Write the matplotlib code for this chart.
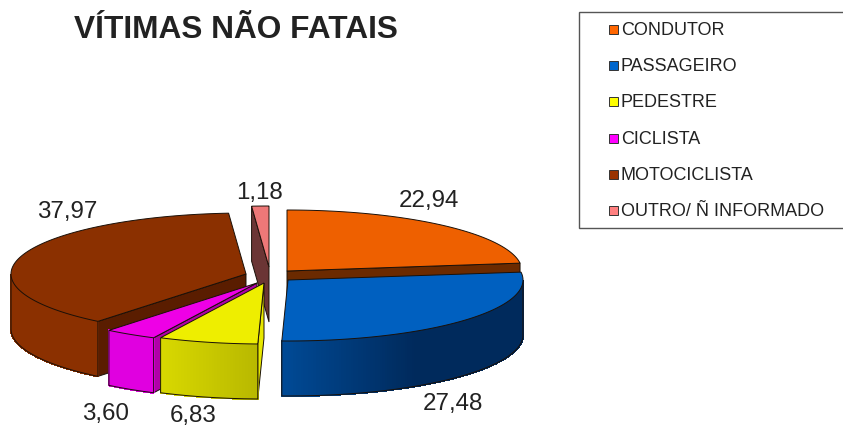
import numpy as np
import matplotlib
matplotlib.use('Agg')
import matplotlib.pyplot as plt
from matplotlib.colors import to_rgb
from matplotlib.patches import Polygon, Rectangle

plt.rcParams['font.family'] = ['Liberation Sans', 'DejaVu Sans']

# data
categories = ['CONDUTOR', 'PASSAGEIRO', 'PEDESTRE', 'CICLISTA', 'MOTOCICLISTA', 'OUTRO/ Ñ INFORMADO']
values = [22.94, 27.48, 6.83, 3.60, 37.97, 1.18]
value_labels = ['22,94', '27,48', '6,83', '3,60', '37,97', '1,18']

# styles
top_colors = ['#ee6000', '#0060c0', '#eeee00', '#ee00e6', '#8b3000', '#ee7878']
legend_colors = ['#ff6600', '#0066cc', '#ffff00', '#ff00ff', '#993300', '#ff8080']
side_colors = ['#6b2a00', '#00306a', '#e8e800', '#b000a8', '#5a1d00', '#6b3535']
rim_left = ['#8b3800', '#004a96', '#d8d800', '#e000e0', '#8b3000', '#8b4545']
rim_right = ['#8b3800', '#002a5c', '#b8b800', '#e000e0', '#8b3000', '#8b4545']
rim_span = [1, 0.55, 1, 1, 1, 1]
edge = '#1a1008'

# layout, in pixels
cx, cy = 268, 275
rx, ry = 235, 61
depth = 55
explode_x = [19, 20, -4, -11, -22, 1]
explode_y = [-4, 5, 8, 8, -1, -8]
label_x = [429, 453, 193, 105, 67, 259]
label_y = [201, 404, 416, 414, 212, 193]
draw_order = [5, 0, 4, 1, 3, 2]

fig = plt.figure(figsize=(8.43, 4.28), dpi=100)
ax = fig.add_axes([0, 0, 1, 1])
ax.set_xlim(0, 843)
ax.set_ylim(428, 0)
ax.axis('off')

total = sum(values)
stops = np.cumsum([0] + values) / total * 360


def rim_point(ang, x0, y0):
    a = np.radians(ang)
    return x0 + rx * np.sin(a), y0 - ry * np.cos(a)


for z, i in enumerate(draw_order):
    start, end = stops[i], stops[i + 1]
    x0, y0 = cx + explode_x[i], cy + explode_y[i]
    ang = np.linspace(start, end, 160)
    xs, ys = rim_point(ang, x0, y0)

    # radial side face
    if end < 180 or start > 180:
        ex, ey = rim_point(end if end < 180 else start, x0, y0)
        face = [(x0, y0), (ex, ey), (ex, ey + depth), (x0, y0 + depth)]
        ax.add_patch(Polygon(face, fc=side_colors[i], ec=edge, lw=0.7, zorder=z + 1))

    # outer wall, only the front half shows
    c1, c2 = np.array(to_rgb(rim_left[i])), np.array(to_rgb(rim_right[i]))
    front = (ang >= 90) & (ang <= 270)
    fx, fy = xs[front], ys[front]
    if len(fx) > 1:
        for k in range(len(fx) - 1):
            t = (fx[k] - fx.min()) / (fx.max() - fx.min())
            col = c1 + (c2 - c1) * min(1, t / rim_span[i])
            seg = [(fx[k], fy[k]), (fx[k + 1], fy[k + 1]), (fx[k + 1], fy[k + 1] + depth), (fx[k], fy[k] + depth)]
            ax.add_patch(Polygon(seg, fc=col, ec=col, lw=0.8, antialiased=False, zorder=z + 1.1))
        outline = [(fx[0], fy[0])] + list(zip(fx, fy + depth)) + [(fx[-1], fy[-1])]
        ax.add_patch(Polygon(outline, closed=False, fill=False, ec=edge, lw=0.7, zorder=z + 1.2))

    # top face
    top = [(x0, y0)] + list(zip(xs, ys))
    ax.add_patch(Polygon(top, fc=top_colors[i], ec=edge, lw=0.7, zorder=z + 1.3))

for i in range(len(values)):
    ax.text(label_x[i], label_y[i], value_labels[i], fontsize=17.4, color='#222222', ha='center', va='center', zorder=20)

ax.text(236, 30, 'VÍTIMAS NÃO FATAIS', fontsize=22.8, fontweight='bold', color='#222222', ha='center', va='center')

# legend
ax.add_patch(Rectangle((578.5, 11.5), 280, 216, fc='white', ec='#555555', lw=1))
legend_y = [29, 65, 101, 138, 174, 210]
for i in range(len(categories)):
    ax.add_patch(Rectangle((608.5, legend_y[i] - 4.5), 9, 9, fc=legend_colors[i], ec='#333333', lw=0.7))
    ax.text(621, legend_y[i] + 1, categories[i], fontsize=13, color='#222222', ha='left', va='center')

fig.savefig('out.png', dpi=100)
